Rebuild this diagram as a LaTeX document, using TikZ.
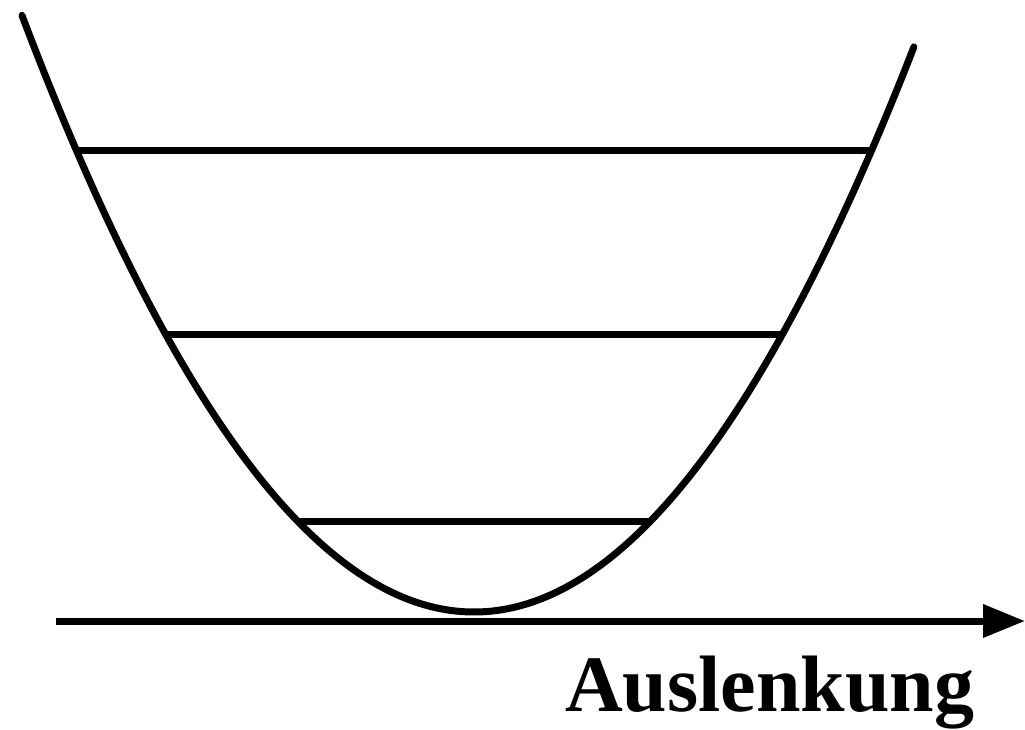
\documentclass[tikz,border=0pt]{standalone}
\usepackage{fontspec}
\setmainfont{Liberation Serif}
\usetikzlibrary{arrows.meta}
\begin{document}
\begin{tikzpicture}[x=1pt,y=-1pt,
  curve/.style={line width=7pt,line cap=round},
  level/.style={line width=7pt},
  axis/.style={line width=7pt,-{Triangle[length=42pt,width=32pt]}}]
\useasboundingbox (0,0) rectangle (1025,729);
% potential (parabola), vertex at (474,612)
\draw[curve] plot[domain=-4.52:4.40,samples=120,smooth] ({474+100*\x},{612-29.2*\x*\x});
% energy levels
\coordinate (l1a) at (76,150);   \coordinate (l1b) at (872,150);
\coordinate (l2a) at (165.5,334); \coordinate (l2b) at (782.5,334);
\coordinate (l3a) at (297.5,521); \coordinate (l3b) at (650.5,521);
\draw[level] (l1a) -- (l1b);
\draw[level] (l2a) -- (l2b);
\draw[level] (l3a) -- (l3b);
% axis
\coordinate (ax0) at (56,621);
\coordinate (ax1) at (1025,621);
\draw[axis] (ax0) -- (ax1);
\node[anchor=base west,inner sep=0pt,font=\fontsize{80}{80}\selectfont\bfseries] (lab) at (565,711) {Auslenkung};
\end{tikzpicture}
\end{document}
